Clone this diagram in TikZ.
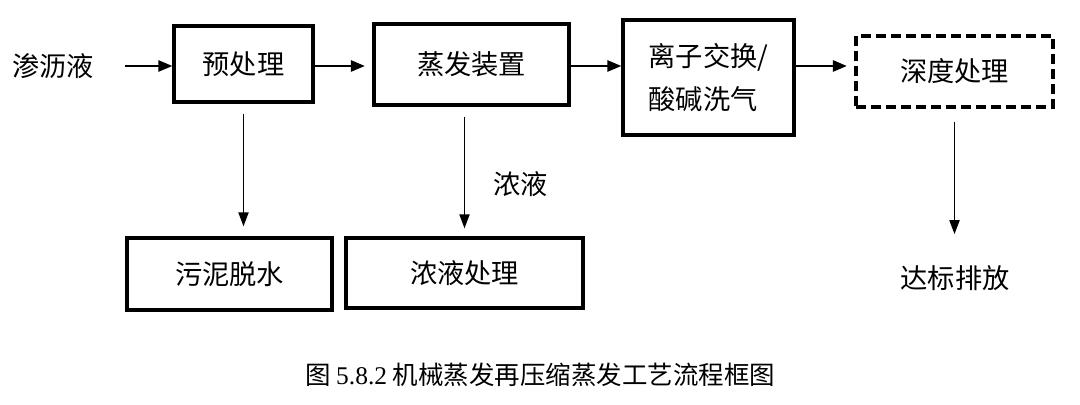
\documentclass[tikz,border=0pt]{standalone}
\usepackage{fontspec}
\setmainfont{Liberation Serif}
\newfontfamily\cjk{Noto Sans CJK SC}
\usetikzlibrary{arrows.meta}

\begin{document}
\begin{tikzpicture}[x=0.02cm,y=-0.02cm,font=\cjk\fontsize{15.5}{24}\selectfont,
			box/.style={draw,line width=1.8pt,inner sep=0pt},
			flow/.style={line width=1.4pt,-{Triangle[length=0.28cm,width=0.22cm]}},
			drop/.style={line width=1pt,-{Triangle[length=0.28cm,width=0.2cm]}}]
			\useasboundingbox (0,0) rectangle (1080,405);
			\coordinate (row) at (0,66);
			% upper line
			\node (feed) at (53,66) {渗沥液};
			\node[box,minimum width=2.78cm,minimum height=1.52cm] (pre) at (243.5,64) {预处理};
			\node[box,minimum width=3.9cm,minimum height=1.62cm] (evap) at (471.5,64.5) {蒸发装置};
			\node[box,minimum width=3.42cm,minimum height=2.3cm,align=left] (ion) at (708.5,77.5) {离子交换/\\酸碱洗气};
			\node[box,dash pattern=on 0.2cm off 0.1cm,minimum width=3.94cm,minimum height=1.42cm] (deep) at (954.5,71.5) {深度处理};
			% lower line
			\node[box,minimum width=4.1cm,minimum height=1.44cm] (sludge) at (229.5,274) {污泥脱水};
			\node[box,minimum width=4.74cm,minimum height=1.4cm] (conc) at (464.5,273) {浓液处理};
			\node (out) at (955,278) {达标排放};
			\draw[flow,shorten <=0.5cm] (feed.east |- row) -- (pre.west |- row);
			\draw[flow,shorten >=0.15cm] (pre.east |- row) -- (evap.west |- row);
			\draw[flow] (evap.east |- row) -- (ion.west |- row);
			\draw[flow,shorten >=0.15cm] (ion.east |- row) -- (deep.west |- row);
			\draw[drop,shorten <=0.2cm,shorten >=0.2cm] (pre.south) -- (pre.south |- sludge.north);
			\draw[drop,shorten <=0.2cm,shorten >=0.16cm] (evap.south -| conc.north) -- (conc.north)
				node[pos=0.6,right=0.45cm] {浓液};
			\draw[drop,shorten <=0.26cm,shorten >=0.5cm] (deep.south) -- (deep.south |- out.north);
			\node[font=\cjk\fontsize{14.5}{18}\selectfont] (cap) at (540,375) {图 {\rmfamily 5.8.2} 机械蒸发再压缩蒸发工艺流程框图};
		\end{tikzpicture}
\end{document}
